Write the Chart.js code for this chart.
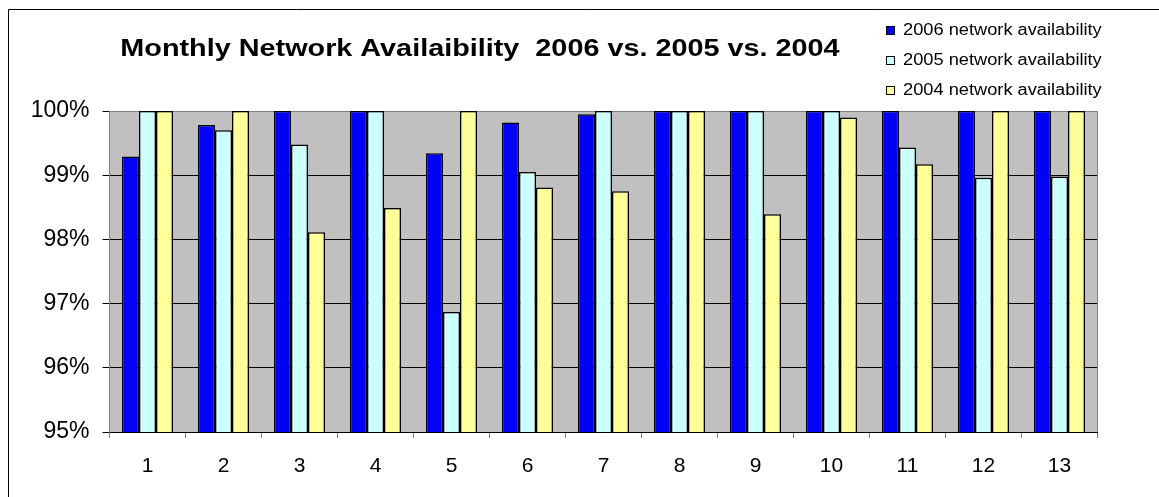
<!DOCTYPE html>
<html>
<head>
<meta charset="utf-8">
<script src="https://cdn.jsdelivr.net/npm/chart.js@4.4.1/dist/chart.umd.min.js"></script>
<style>
  html, body { margin: 0; padding: 0; background: #fff; overflow: hidden; }
  #wrap { width: 1159px; height: 497px; position: relative; }
</style>
</head>
<body>
<div id="wrap"><canvas id="c" width="1159" height="497"></canvas></div>
<script>
// Month numbers along the x axis
const months = ['1', '2', '3', '4', '5', '6', '7', '8', '9', '10', '11', '12', '13'];

// Monthly availability, percent
const avail2006 = [99.29, 99.78, 100, 100, 99.34, 99.82, 99.95, 100, 100, 100, 100, 100, 100];
const avail2005 = [100, 99.70, 99.48, 100, 96.87, 99.05, 100, 100, 100, 100, 99.43, 98.96, 98.98];
const avail2004 = [100, 100, 98.11, 98.49, 100, 98.81, 98.75, 100, 98.39, 99.90, 99.17, 100, 100];

const seriesNames = ['2006 network availability', '2005 network availability', '2004 network availability'];
const seriesColors = ['#0000ff', '#ccffff', '#ffff99'];

// Value axis range and step
const yMin = 95;
const yMax = 100;
const yStep = 1;

const titleText = 'Monthly Network Availaibility  2006 vs. 2005 vs. 2004';
const FONT = "'Liberation Sans', Arial, sans-serif";

// Background, plot frame, title and legend
const framePlugin = {
  id: 'frame',
  beforeDraw(chart) {
    const { ctx, chartArea: a, width, height } = chart;
    ctx.save();
    ctx.fillStyle = '#ffffff';
    ctx.fillRect(0, 0, width, height);
    ctx.fillStyle = '#c0c0c0';
    ctx.fillRect(a.left, a.top, a.right - a.left, a.bottom - a.top);
    // outer chart border
    ctx.strokeStyle = '#000000';
    ctx.lineWidth = 1;
    ctx.beginPath();
    ctx.moveTo(8.5, height + 2);
    ctx.lineTo(8.5, 9.5);
    ctx.lineTo(width + 2, 9.5);
    ctx.stroke();
    ctx.restore();
  },
  beforeDatasetsDraw(chart) {
    const { ctx, chartArea: a } = chart;
    ctx.save();
    ctx.strokeStyle = '#808080';
    ctx.lineWidth = 1;
    ctx.beginPath();
    const r = Math.floor(a.right) + 0.5;
    ctx.moveTo(r, a.top);
    ctx.lineTo(r, a.bottom);
    ctx.stroke();
    ctx.restore();
  },
  afterDraw(chart) {
    const { ctx } = chart;
    ctx.save();
    // title
    ctx.fillStyle = '#000000';
    ctx.font = 'bold 24px ' + FONT;
    ctx.textAlign = 'center';
    ctx.textBaseline = 'middle';
    ctx.translate(480, 49);
    ctx.scale(1.2, 1);
    ctx.fillText(titleText, 0, 0);
    ctx.restore();

    // legend
    ctx.save();
    ctx.font = '16px ' + FONT;
    ctx.textBaseline = 'middle';
    ctx.textAlign = 'left';
    chart.data.datasets.forEach((ds, i) => {
      const y = 31 + i * 30;
      ctx.fillStyle = ds.backgroundColor;
      ctx.fillRect(886.5, y - 4.5, 8, 8);
      ctx.strokeStyle = '#000000';
      ctx.lineWidth = 1;
      ctx.strokeRect(886.5, y - 4.5, 8, 8);
      ctx.save();
      ctx.translate(903, y);
      ctx.scale(1.14, 1);
      ctx.fillStyle = '#000000';
      ctx.fillText(ds.label, 0, 0);
      ctx.restore();
    });
    ctx.restore();
  }
};

const seriesData = [avail2006, avail2005, avail2004];

new Chart(document.getElementById('c'), {
  type: 'bar',
  data: {
    labels: months,
    datasets: seriesData.map((d, i) => ({
      label: seriesNames[i],
      data: d,
      backgroundColor: seriesColors[i],
      borderColor: '#000000',
      borderWidth: 1.5,
      borderSkipped: false,
      categoryPercentage: 51 / 76,
      barPercentage: 1.0
    }))
  },
  options: {
    responsive: false,
    animation: false,
    devicePixelRatio: 1,
    layout: { padding: { top: 111, right: 61.5, bottom: 0, left: 0 } },
    plugins: {
      legend: { display: false },
      title: { display: false },
      tooltip: { enabled: false }
    },
    scales: {
      x: {
        afterFit(scale) { scale.height = 65; },
        offset: true,
        grid: {
          display: true,
          offset: true,
          drawOnChartArea: false,
          drawTicks: true,
          tickLength: 6,
          color: '#808080'
        },
        border: { display: true, color: '#000000', width: 1 },
        ticks: {
          color: '#000000',
          font: { family: FONT, size: 21 },
          padding: 16,
          maxRotation: 0
        }
      },
      y: {
        afterFit(scale) { scale.width = 109.5; },
        min: yMin,
        max: yMax,
        grid: {
          color: (c) => (c.tick && c.tick.value === yMax ? '#808080' : '#000000'),
          tickColor: '#000000',
          tickLength: 7,
          lineWidth: 1
        },
        border: { display: true, color: '#808080', width: 1 },
        ticks: {
          stepSize: yStep,
          color: '#000000',
          font: { family: FONT, size: 23 },
          padding: 13,
          callback: (v) => v + '%'
        }
      }
    }
  },
  plugins: [framePlugin]
});
</script>
</body>
</html>
